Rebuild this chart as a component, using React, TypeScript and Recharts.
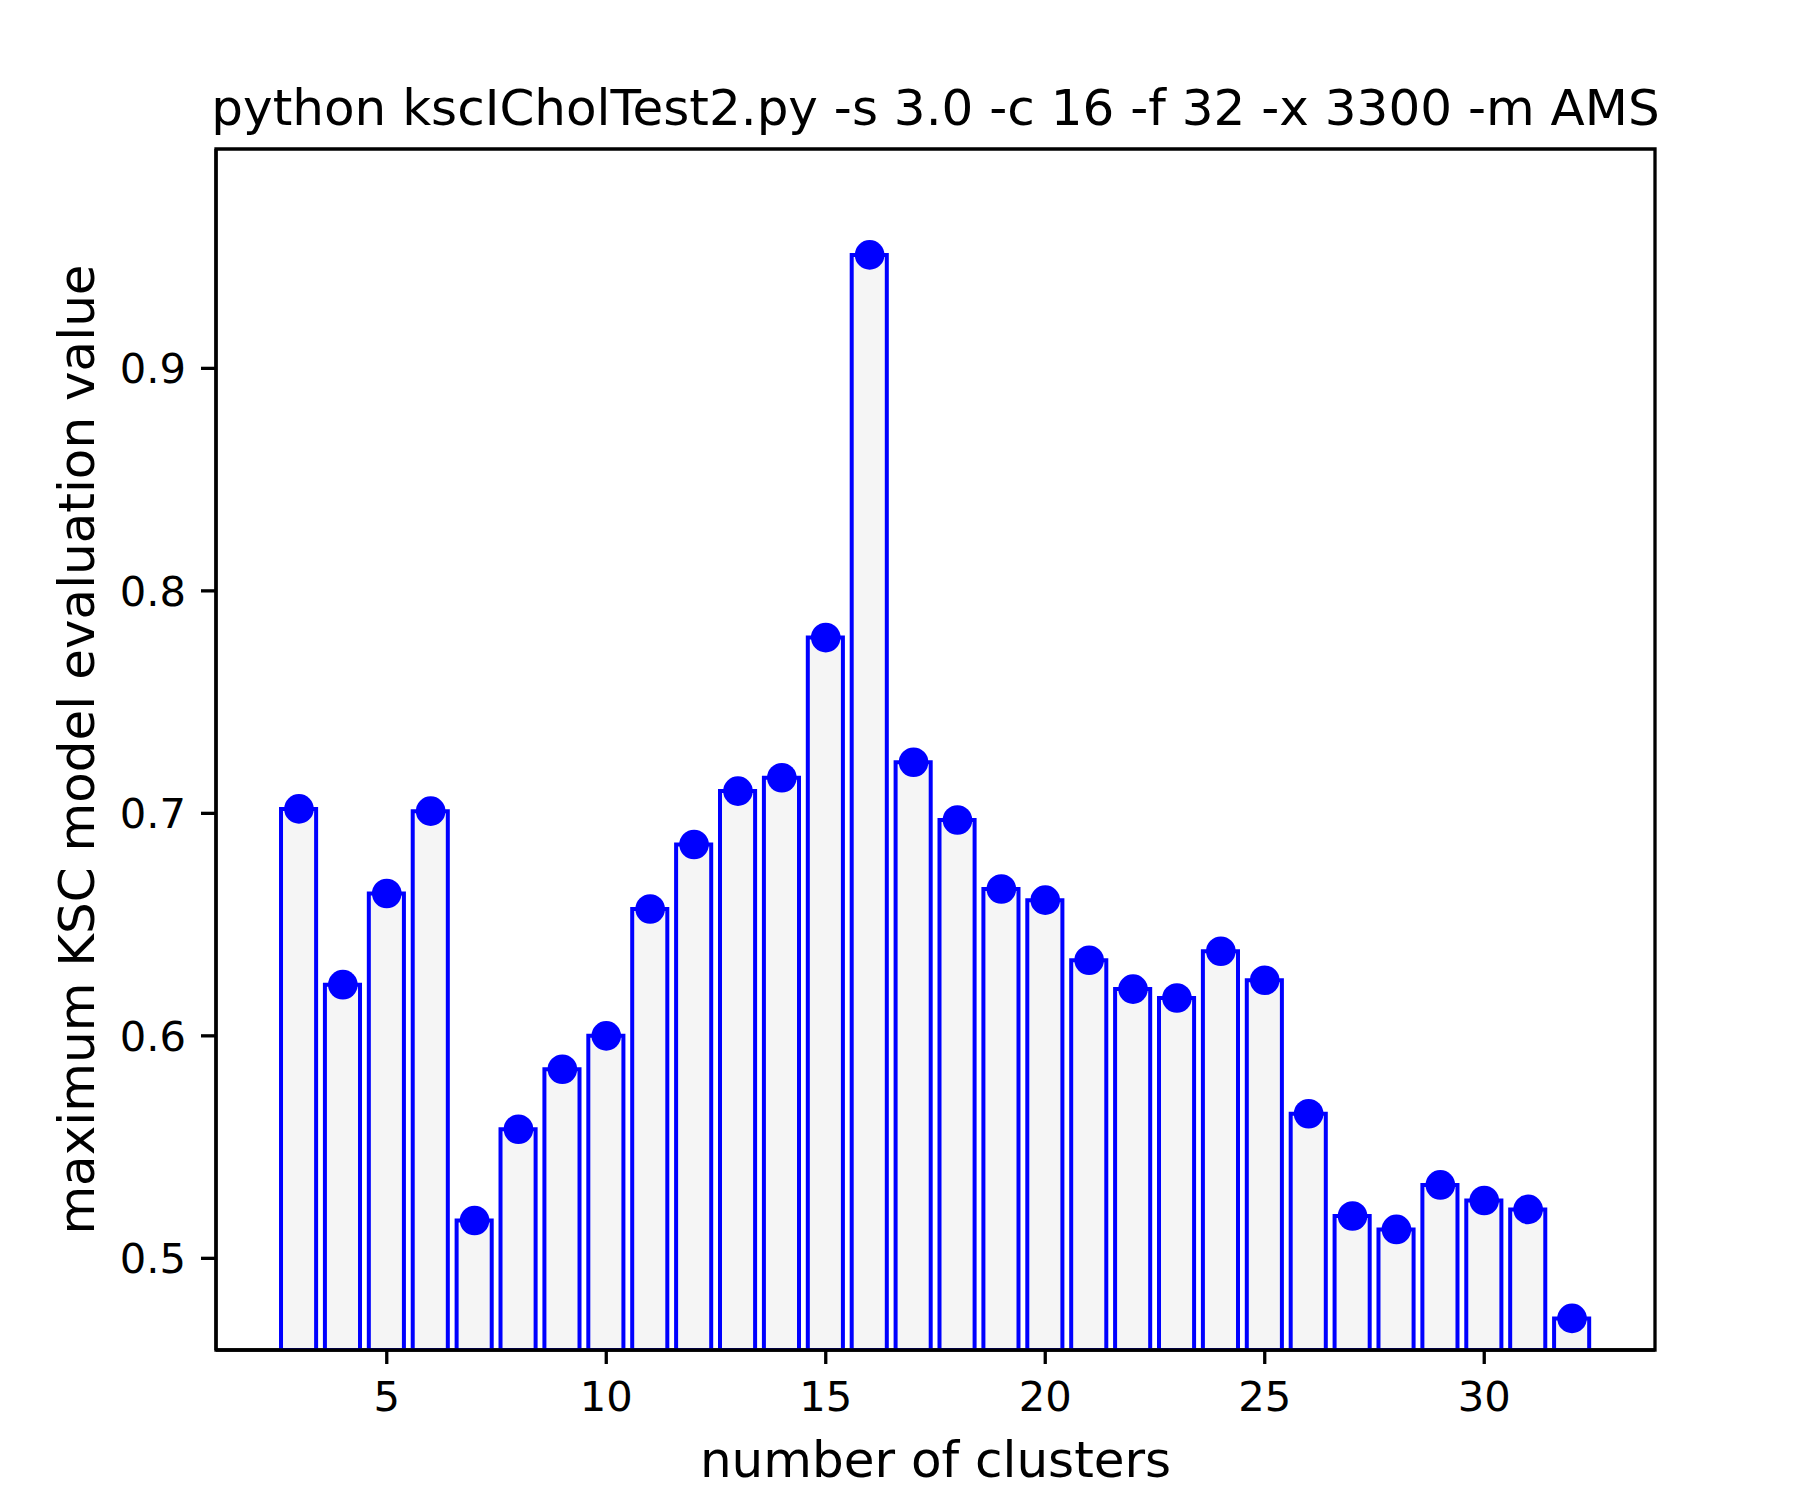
import { ComposedChart, Bar, Line, XAxis, YAxis, ReferenceArea } from 'recharts'

// number of clusters and the max KSC evaluation value for each
const clusters = [3, 4, 5, 6, 7, 8, 9, 10, 11, 12, 13, 14, 15, 16, 17, 18, 19, 20, 21, 22, 23, 24, 25, 26, 27, 28, 29, 30, 31, 32]
const kscValues = [
  0.702, 0.623, 0.664, 0.701, 0.517, 0.558, 0.585, 0.600, 0.657, 0.686,
  0.710, 0.716, 0.779, 0.951, 0.723, 0.697, 0.666, 0.661, 0.634, 0.621,
  0.617, 0.638, 0.625, 0.565, 0.519, 0.513, 0.533, 0.526, 0.522, 0.473,
]
const xTicks = [5, 10, 15, 20, 25, 30]
const yTicks = [0.5, 0.6, 0.7, 0.8, 0.9]
const xDomain = [1.11, 33.89]
const yDomain = [0.4588, 0.9986]

const title = 'python kscICholTest2.py -s 3.0 -c 16 -f 32 -x 3300 -m AMS'
const xLabel = 'number of clusters'
const yLabel = 'maximum KSC model evaluation value'

const FONT = '"DejaVu Sans", sans-serif'
const W = 1800
const H = 1500

export default function App() {
  const data = clusters.map((k, i) => ({ k, v: kscValues[i] }))

  const tickStyle = { fill: '#000', fontSize: 41.7, fontFamily: FONT }
  const axisLine = { stroke: '#000', strokeWidth: 3.3 }

  return (
    <div style={{ position: 'absolute', left: 0, top: 0, width: W, height: H, background: '#fff' }}>
      <ComposedChart width={W} height={H} data={data} margin={{ top: 149, right: 145, bottom: 0, left: 0 }}>
        <XAxis
          dataKey="k"
          type="number"
          domain={xDomain}
          ticks={xTicks}
          allowDataOverflow
          height={150}
          tick={tickStyle}
          tickSize={14}
          tickMargin={17}
          axisLine={axisLine}
          tickLine={axisLine}
        />
        <YAxis
          type="number"
          domain={yDomain}
          ticks={yTicks}
          allowDataOverflow
          width={216}
          tick={tickStyle}
          tickSize={15}
          tickMargin={15}
          axisLine={axisLine}
          tickLine={axisLine}
        />
        <Bar dataKey="v" barSize={35.1} fill="#f5f5f5" stroke="#0000ff" strokeWidth={4} isAnimationActive={false} />
        <Line
          dataKey="v"
          stroke="none"
          dot={{ r: 14.8, fill: '#0000ff', stroke: 'none' }}
          activeDot={false}
          isAnimationActive={false}
        />
        <ReferenceArea
          x1={xDomain[0]}
          x2={xDomain[1]}
          y1={yDomain[0]}
          y2={yDomain[1]}
          fill="none"
          fillOpacity={0}
          stroke="#000"
          strokeWidth={3.3}
          ifOverflow="visible"
        />
      </ComposedChart>
      <svg width={W} height={H} style={{ position: 'absolute', left: 0, top: 0, pointerEvents: 'none' }}>
        <text x={935.5} y={125} textAnchor="middle" fontFamily={FONT} fontSize={50} fill="#000">
          {title}
        </text>
        <text x={935.5} y={1477} textAnchor="middle" fontFamily={FONT} fontSize={50} fill="#000">
          {xLabel}
        </text>
        <text x={94} y={749.5} textAnchor="middle" fontFamily={FONT} fontSize={50} fill="#000" transform="rotate(-90, 94, 749.5)">
          {yLabel}
        </text>
      </svg>
    </div>
  )
}
